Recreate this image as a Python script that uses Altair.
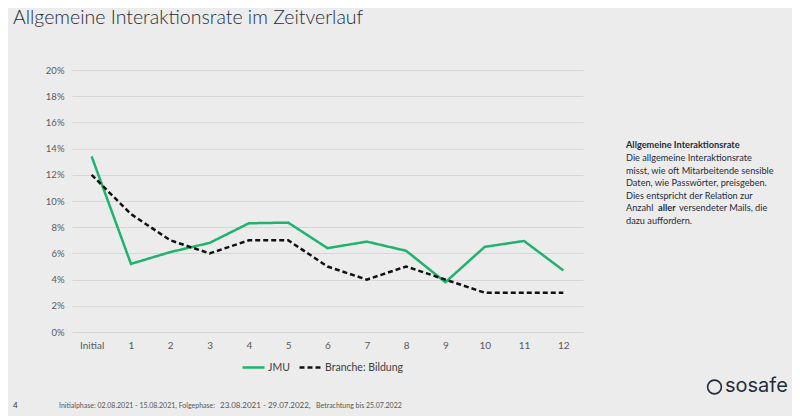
import altair as alt
import pandas as pd

categories = ["Initial", "1", "2", "3", "4", "5", "6", "7", "8", "9", "10", "11", "12"]
jmu = [13.4, 5.2, 6.1, 6.8, 8.3, 8.35, 6.4, 6.9, 6.2, 3.8, 6.5, 6.95, 4.7]
branche = [12, 9, 7, 6, 7, 7, 5, 4, 5, 4, 3, 3, 3]
series_names = ["JMU", "Branche: Bildung"]
y_ticks = [0, 0.02, 0.04, 0.06, 0.08, 0.10, 0.12, 0.14, 0.16, 0.18, 0.20]

title_text = "Allgemeine Interaktionsrate im Zeitverlauf"
side_title = "Allgemeine Interaktionsrate"
side_lines = [
    "Die allgemeine Interaktionsrate",
    "misst, wie oft Mitarbeitende sensible",
    "Daten, wie Passwörter, preisgeben.",
    "Dies entspricht der Relation zur",
]
footer_parts = ["Initialphase: 02.08.2021 - 15.08.2021, Folgephase:", "23.08.2021 - 29.07.2022,", "Betrachtung bis  25.07.2022"]

rows = []
for c, v in zip(categories, jmu):
    rows.append({"cat": c, "value": v / 100, "series": series_names[0]})
for c, v in zip(categories, branche):
    rows.append({"cat": c, "value": v / 100, "series": series_names[1]})
df = pd.DataFrame(rows)

BG = "#ececec"
GREEN = "#1fb36e"
TXT = "#1f2d3a"
FONT = "Lato"

legend_params = dict(
    orient="none", legendX=169, legendY=285, direction="horizontal", title=None,
    symbolType="stroke", symbolSize=484, symbolStrokeWidth=2.5,
    labelFontSize=10.5, labelColor="#404040", labelFont=FONT, columnPadding=4, labelOffset=2,
)

lines = alt.Chart(df).mark_line(strokeWidth=2.5).encode(
    x=alt.X("cat:N", sort=categories, scale=alt.Scale(type="point", padding=0.5),
            axis=alt.Axis(title=None, labelAngle=0, ticks=False, domain=False, grid=False,
                          labelColor="#595959", labelFontSize=10, labelFont=FONT, labelPadding=8)),
    y=alt.Y("value:Q", scale=alt.Scale(domain=[0, 0.2], nice=False),
            axis=alt.Axis(title=None, format=".0%", values=y_ticks, ticks=False, domain=False,
                          gridColor="#d6d6d6", gridWidth=1, labelColor="#595959",
                          labelFontSize=9.5, labelFont=FONT, labelPadding=8)),
    color=alt.Color("series:N", scale=alt.Scale(domain=series_names, range=[GREEN, "#111111"]),
                    legend=alt.Legend(**legend_params)),
    strokeDash=alt.StrokeDash("series:N", scale=alt.Scale(domain=series_names, range=[[1, 0], [5, 3]]),
                              legend=alt.Legend(**legend_params)),
)

one = alt.Data(values=[{}])


def txt(s, x, y, size, weight="normal", color=TXT, font=FONT, baseline="middle", align="left"):
    return alt.Chart(one).mark_text(
        text=s, fontSize=size, fontWeight=weight, color=color, font=font,
        baseline=baseline, align=align,
    ).encode(x=alt.value(x), y=alt.value(y))


SIDE = 9.2
layers = [lines]
layers.append(txt(title_text, -59, -52, 19.5, weight=300, baseline="middle"))
layers.append(txt(side_title, 554, 75, SIDE, weight="bold"))
for i, s in enumerate(side_lines):
    layers.append(txt(s, 554, 88 + i * 12.6, SIDE))
layers.append(txt("Anzahl", 554, 88 + 4 * 12.6, SIDE))
layers.append(txt("aller", 586, 88 + 4 * 12.6, SIDE, weight="bold"))
layers.append(txt("versendeter Mails, die", 607, 88 + 4 * 12.6, SIDE))
layers.append(txt("dazu auffordern.", 554, 88 + 5 * 12.6, SIDE))

layers.append(txt("4", -59, 336, 8, color="#333333"))
layers.append(txt(footer_parts[0], -13, 336, 7, color="#555555"))
layers.append(txt(footer_parts[1], 148, 336, 8, color="#555555"))
layers.append(txt(footer_parts[2], 244, 336, 7, color="#555555"))

layers.append(alt.Chart(one).mark_point(shape="circle", filled=False, size=190, strokeWidth=1.6,
                                        color=TXT, opacity=1).encode(x=alt.value(642.5), y=alt.value(317)))
layers.append(txt("sosafe", 653, 316, 20, color=TXT, font="Inter"))

chart = alt.layer(*layers).properties(
    width=511, height=262,
    autosize=alt.AutoSizeParams(type="none"),
    padding={"left": 64, "top": 62, "right": 209, "bottom": 84},
    background=BG,
).configure_view(stroke=None)

chart.save("out.html", embed_options={"renderer": "svg", "actions": False})
